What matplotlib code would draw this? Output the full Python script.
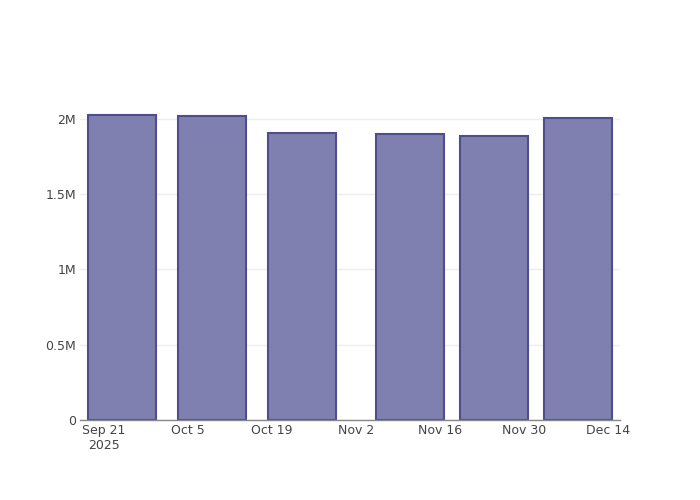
import numpy as np
import pandas as pd
import matplotlib
matplotlib.use("Agg")
import matplotlib.pyplot as plt
import matplotlib.dates as mdates

dates = pd.to_datetime(["2025-09-24", "2025-10-09", "2025-10-24",
                        "2025-11-11", "2025-11-25", "2025-12-09"])
values = [2.025e6, 2.02e6, 1.908e6, 1.897e6, 1.89e6, 2.005e6]

tick_dates = pd.to_datetime(["2025-09-21", "2025-10-05", "2025-10-19", "2025-11-02",
                             "2025-11-16", "2025-11-30", "2025-12-14"])
tick_labels = ["Sep 21\n2025", "Oct 5", "Oct 19", "Nov 2", "Nov 16", "Nov 30", "Dec 14"]
y_ticks = [0, 0.5e6, 1e6, 1.5e6, 2e6]
y_labels = ["0", "0.5M", "1M", "1.5M", "2M"]

fig = plt.figure(figsize=(7, 5), dpi=100)
ax = fig.add_axes([80 / 700, 80 / 500, 540 / 700, 320 / 500])

ax.bar(mdates.date2num(dates), values, width=11.2,
       color="#7f7fb0", edgecolor="#4e4e8e", linewidth=1.5, zorder=3)

ax.set_xlim(mdates.date2num(pd.Timestamp("2025-09-17")),
            mdates.date2num(pd.Timestamp("2025-12-16")))
ax.set_ylim(0, 2.126e6)

ax.set_xticks(mdates.date2num(tick_dates))
ax.set_xticklabels(tick_labels, fontsize=9, color="#444444")
ax.set_yticks(y_ticks)
ax.set_yticklabels(y_labels, fontsize=9, color="#444444")
ax.tick_params(axis="both", length=0)
ax.tick_params(axis="x", pad=3)
ax.tick_params(axis="y", pad=3)

ax.grid(axis="y", color="#eeeeee", linewidth=1, zorder=0)
for s in ["top", "right", "left"]:
    ax.spines[s].set_visible(False)
ax.spines["bottom"].set_color("#888888")
ax.spines["bottom"].set_linewidth(1)
ax.spines["bottom"].set_zorder(4)

fig.savefig("out.png", dpi=100)
